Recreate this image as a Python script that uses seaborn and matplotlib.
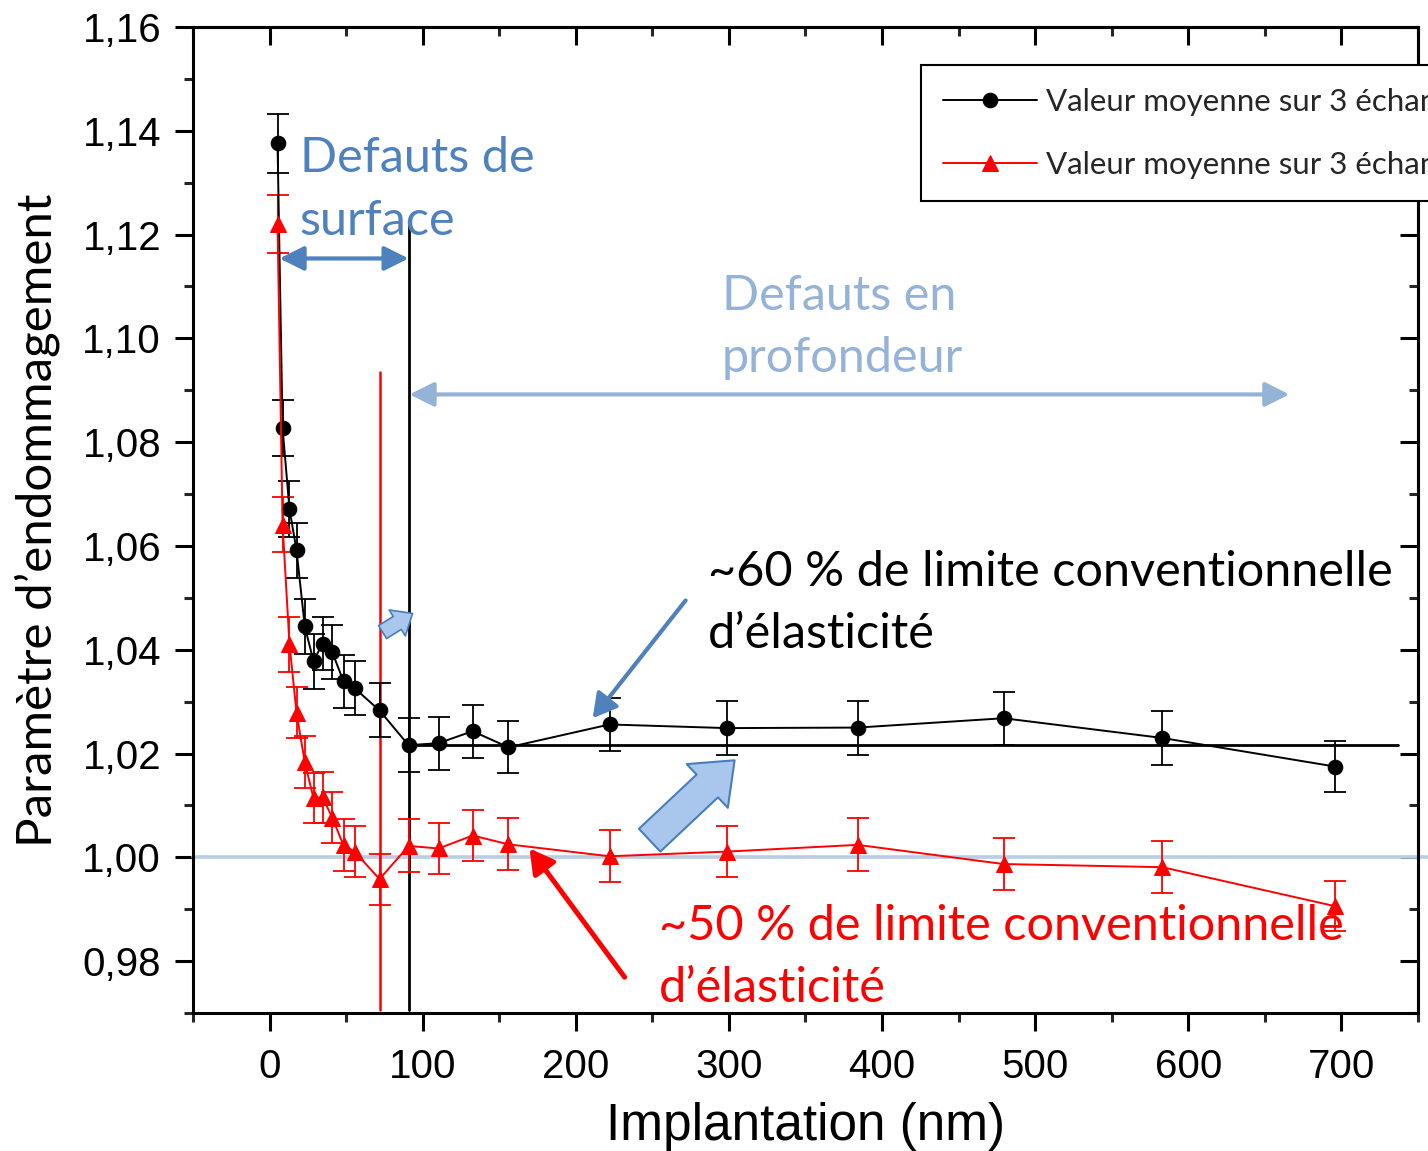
import numpy as np
import pandas as pd
import matplotlib
matplotlib.use("Agg")
import matplotlib.pyplot as plt
from matplotlib.patches import FancyArrowPatch
from matplotlib.ticker import FixedLocator
import seaborn as sns

# ---------------- data ----------------
depth = [5.2, 8.5, 13.0, 17.6, 23.0, 28.7, 34.6, 41.0, 48.3, 55.5, 71.8, 90.8,
         110.4, 132.6, 156.0, 222.0, 298.5, 384.0, 479.4, 583.0, 695.6]
black_mean = [1.1376, 1.0827, 1.0671, 1.0592, 1.0445, 1.0378, 1.0412, 1.0395,
              1.0339, 1.0326, 1.0283, 1.0216, 1.0220, 1.0243, 1.0212, 1.0256,
              1.0249, 1.0250, 1.0268, 1.0230, 1.0175]
black_err = [0.0057, 0.0054, 0.0054, 0.0053, 0.0053, 0.0053, 0.0051, 0.0052,
             0.0051, 0.0052, 0.0052, 0.0052, 0.0051, 0.0051, 0.0050, 0.0051,
             0.0052, 0.0052, 0.0051, 0.0052, 0.0049]
red_mean = [1.1220, 1.0641, 1.0411, 1.0279, 1.0183, 1.0114, 1.0116, 1.0076,
            1.0023, 1.0011, 0.9958, 1.0022, 1.0017, 1.0042, 1.0025, 1.0002,
            1.0011, 1.0024, 0.9987, 0.9981, 0.9906]
red_err = [0.0056, 0.0053, 0.0053, 0.0050, 0.0050, 0.0048, 0.0049, 0.0049,
           0.0050, 0.0049, 0.0049, 0.0051, 0.0050, 0.0050, 0.0050, 0.0050,
           0.0049, 0.0051, 0.0050, 0.0050, 0.0048]
legend_labels = ["Valeur moyenne sur 3 échantillons",
                 "Valeur moyenne sur 3 échantillons"]
x_ticks = [0, 100, 200, 300, 400, 500, 600, 700]
x_minor = [-50, 50, 150, 250, 350, 450, 550, 650, 750]
y_ticks = [0.98, 1.00, 1.02, 1.04, 1.06, 1.08, 1.10, 1.12, 1.14, 1.16]
y_ticklabels = ["0,98", "1,00", "1,02", "1,04", "1,06", "1,08", "1,10", "1,12", "1,14", "1,16"]
y_minor = [0.97, 0.99, 1.01, 1.03, 1.05, 1.07, 1.09, 1.11, 1.13, 1.15]

# reference lines / annotations (data coordinates)
limit_mean = 1.0216
surface_limit = 90.8
red_limit = 71.8

sns.set_theme(style="ticks")
plt.rcParams["font.family"] = ["Liberation Sans", "DejaVu Sans"]

fig = plt.figure(figsize=(14.28, 11.51), dpi=100)
ax = fig.add_axes([193 / 1428, 1 - 1013 / 1151, (1418 - 193) / 1428, (1013 - 27) / 1151])

df_b = pd.DataFrame({"x": depth, "y": black_mean})
df_r = pd.DataFrame({"x": depth, "y": red_mean})

ax.errorbar(depth, black_mean, yerr=black_err, fmt="none", ecolor="black",
            elinewidth=1.3, capsize=8, capthick=1.3, zorder=3)
ax.errorbar(depth, red_mean, yerr=red_err, fmt="none", ecolor="#ff0000",
            elinewidth=1.3, capsize=8, capthick=1.3, zorder=3)
sns.lineplot(data=df_b, x="x", y="y", ax=ax, sort=False, color="black",
             linewidth=1.4, marker="o", markersize=10.5, markeredgecolor="black",
             markerfacecolor="black", label=legend_labels[0], zorder=4)
sns.lineplot(data=df_r, x="x", y="y", ax=ax, sort=False, color="#ff0000",
             linewidth=1.4, marker="^", markersize=11, markeredgecolor="#ff0000",
             markerfacecolor="#ff0000", label=legend_labels[1], zorder=4)

# reference lines
ax.plot([-50, 756], [1.0, 1.0], color="#b9cde5", lw=2.6, zorder=2, clip_on=False)
ax.plot([surface_limit, 737], [limit_mean, limit_mean], color="black", lw=2.0, zorder=2)
ax.plot([surface_limit, surface_limit], [0.9705, 1.1224], color="black", lw=2.0, zorder=2)
ax.plot([red_limit, red_limit], [0.9705, 1.0935], color="#ff0000", lw=1.8, zorder=2)

# double arrows
ax.annotate("", xy=(6.5, 1.1154), xytext=(90.8, 1.1154),
            arrowprops=dict(arrowstyle="<|-|>,head_length=0.7,head_width=0.35",
                            color="#4f81bd", lw=3, mutation_scale=21,
                            shrinkA=0, shrinkB=0))
ax.annotate("", xy=(91.4, 1.0892), xytext=(666, 1.0892),
            arrowprops=dict(arrowstyle="<|-|>,head_length=0.7,head_width=0.35",
                            color="#95b3d7", lw=3, mutation_scale=21,
                            shrinkA=0, shrinkB=0))
# thin arrows
ax.annotate("", xy=(211, 1.0268), xytext=(271.7, 1.0495),
            arrowprops=dict(arrowstyle="-|>,head_length=0.8,head_width=0.45",
                            color="#4f81bd", lw=3, mutation_scale=18,
                            shrinkA=0, shrinkB=0))
ax.annotate("", xy=(169.8, 1.0017), xytext=(231.9, 0.9769),
            arrowprops=dict(arrowstyle="-|>,head_length=0.8,head_width=0.45",
                            color="#ff0000", lw=3.6, mutation_scale=18,
                            shrinkA=0, shrinkB=0))
# block arrows
big = FancyArrowPatch((248.2, 1.0033), (303.7, 1.0187),
                      arrowstyle="simple,head_length=1.5,head_width=2.4,tail_width=1.25",
                      mutation_scale=18, fc="#a9c6ec", ec="#4a7ebb", lw=1.5,
                      shrinkA=0, shrinkB=0, zorder=5)
ax.add_patch(big)
small = FancyArrowPatch((73.8, 1.0434), (93.4, 1.0470),
                        arrowstyle="simple,head_length=1.3,head_width=2.2,tail_width=1.1",
                        mutation_scale=10, fc="#a9c6ec", ec="#4a7ebb", lw=1.2,
                        shrinkA=0, shrinkB=0, zorder=5)
ax.add_patch(small)

# texts
tfont = ["Lato", "DejaVu Sans"]
tsize = 35
ax.text(19.6, 1.1320, "Defauts de", color="#4f81bd", fontsize=tsize, family=tfont, va="baseline")
ax.text(19.6, 1.1199, "surface", color="#4f81bd", fontsize=tsize, family=tfont, va="baseline")
ax.text(295.2, 1.1054, "Defauts en", color="#95b3d7", fontsize=tsize, family=tfont, va="baseline")
ax.text(295.2, 1.0935, "profondeur", color="#95b3d7", fontsize=tsize, family=tfont, va="baseline")
ax.text(286.1, 1.0522, "~60 % de limite conventionnelle", color="black", fontsize=tsize,
        family=tfont, va="baseline")
ax.text(286.1, 1.0403, "d’élasticité", color="black", fontsize=tsize, family=tfont, va="baseline")
ax.text(254.1, 0.9840, "~50 % de limite conventionnelle", color="#ff0000", fontsize=tsize,
        family=tfont, va="baseline", zorder=6)
ax.text(254.1, 0.9721, "d’élasticité", color="#ff0000", fontsize=tsize, family=tfont, va="baseline")

# axes
ax.set_xlim(-50, 750)
ax.set_ylim(0.970, 1.160)
ax.set_xticks(x_ticks)
ax.set_xticks(x_minor, minor=True)
ax.set_yticks(y_ticks)
ax.set_yticklabels(y_ticklabels)
ax.set_yticks(y_minor, minor=True)
for s in ax.spines.values():
    s.set_visible(True)
    s.set_linewidth(2.2)
    s.set_color("black")
ax.tick_params(axis="both", which="major", labelsize=29, width=2.2, length=13, pad=10,
               colors="black", direction="out", top=False, right=False)
ax.tick_params(axis="both", which="minor", width=2.2, length=6.5, direction="out",
               top=False, right=False)
ax.tick_params(axis="x", which="major", pad=12)

# top and right: inward ticks without labels
secx = ax.secondary_xaxis("top")
secx.set_xticks(x_ticks)
secx.xaxis.set_minor_locator(FixedLocator(x_minor))
secx.tick_params(axis="x", which="major", direction="in", length=13, width=2.2,
                 labeltop=False, colors="black")
secx.tick_params(axis="x", which="minor", direction="in", length=6.5, width=2.2)
secx.spines["top"].set_linewidth(2.2)
secy = ax.secondary_yaxis("right")
secy.set_yticks(y_ticks)
secy.yaxis.set_minor_locator(FixedLocator(y_minor))
secy.tick_params(axis="y", which="major", direction="in", length=13, width=2.2,
                 labelright=False, colors="black")
secy.tick_params(axis="y", which="minor", direction="in", length=6.5, width=2.2)
secy.spines["right"].set_linewidth(2.2)

ax.set_xlabel("Implantation (nm)", fontsize=37, labelpad=12, color="black")
ax.set_ylabel("Paramètre d’endommagement", fontsize=35.5, family=tfont, labelpad=16, color="black")
ax.grid(False)

leg = ax.legend(loc="upper left", bbox_to_anchor=(0.594, 0.961),
                frameon=True, fancybox=False, framealpha=1, edgecolor="black",
                handlelength=3.0, handletextpad=0.3, borderpad=0.72,
                labelspacing=1.12, borderaxespad=0, prop={"family": tfont, "size": 22.5})
leg.get_frame().set_linewidth(1.5)
leg.set_zorder(10)

fig.savefig("out.png", dpi=100)
